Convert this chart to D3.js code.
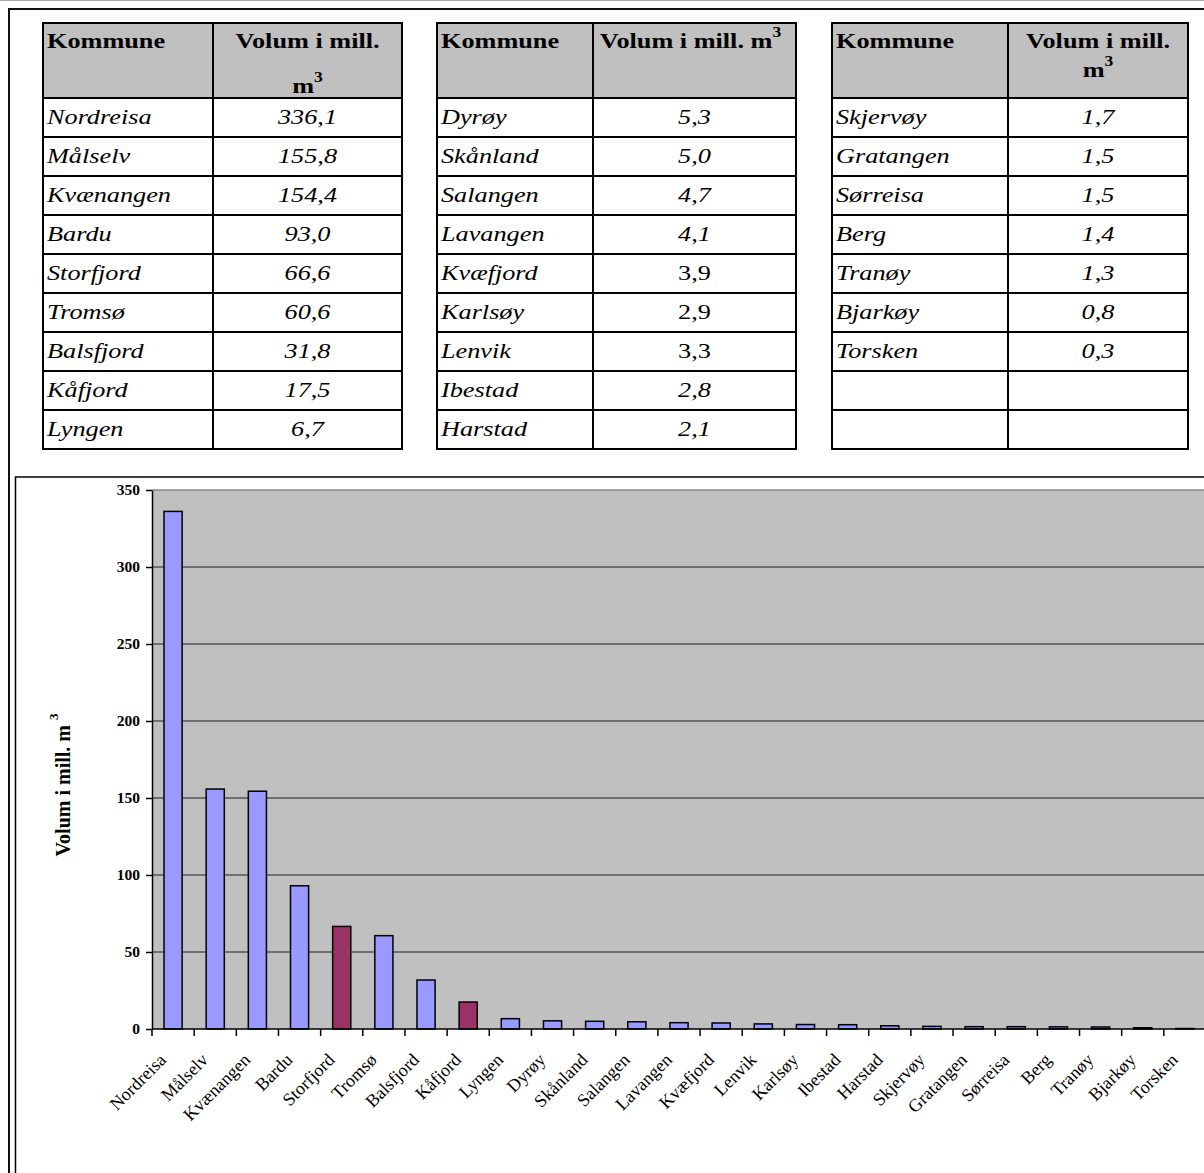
<!DOCTYPE html>
<html>
<head>
<meta charset="utf-8">
<script src="https://cdn.jsdelivr.net/npm/d3@7"></script>
<style>
  html, body { margin: 0; padding: 0; background: #fff; }
  svg { display: block; }
  text { font-family: "Liberation Serif", "Times New Roman", serif; fill: #000; }
</style>
</head>
<body>
<svg id="page" width="1204" height="1173"></svg>
<script>
// Kommuner i tabellens tre kolonnegrupper (venstre, midtre, høyre)
const tableGroups = [
  ["Nordreisa", "Målselv", "Kvænangen", "Bardu", "Storfjord", "Tromsø", "Balsfjord", "Kåfjord", "Lyngen"],
  ["Dyrøy", "Skånland", "Salangen", "Lavangen", "Kvæfjord", "Karlsøy", "Lenvik", "Ibestad", "Harstad"],
  ["Skjervøy", "Gratangen", "Sørreisa", "Berg", "Tranøy", "Bjarkøy", "Torsken"]
];
// Volum i mill. m3, samme rekkefølge som kommunene over
const tableValues = [
  [336.1, 155.8, 154.4, 93.0, 66.6, 60.6, 31.8, 17.5, 6.7],
  [5.3, 5.0, 4.7, 4.1, 3.9, 2.9, 3.3, 2.8, 2.1],
  [1.7, 1.5, 1.5, 1.4, 1.3, 0.8, 0.3]
];
// Verdier som står med rett (ikke kursiv) skrift i tabellen
const uprightValues = ["Kvæfjord", "Karlsøy", "Lenvik"];
// Kommuner med uthevet søyle
const highlighted = ["Storfjord", "Kåfjord"];
// Y-aksens tallverdier
const yTicks = [0, 50, 100, 150, 200, 250, 300, 350];
const headerName = "Kommune";
const headerValue = "Volum i mill.";
const yTitle = "Volum i mill. m";

const svg = d3.select("#page");
const fmt = v => d3.format(".1f")(v).replace(".", ",");

// ---------- Ytre ramme ----------
svg.append("line").attr("x1", 0).attr("x2", 1204).attr("y1", 0.5).attr("y2", 0.5)
  .attr("stroke", "#a8a8a8").attr("stroke-width", 1);
svg.append("path").attr("d", "M9,1173 V9 H1204")
  .attr("fill", "none").attr("stroke", "#111").attr("stroke-width", 2);

// ---------- Tabell ----------
const tableTop = 23, headerBottom = 98, rowH = 39, nRows = 9;
const colX = [[43, 213, 402], [437, 593, 796], [832, 1008, 1188]];
const SX = 1.25;          // bred Times-skrift i tabellen
const fontSize = 21;

function stext(g, x, y, str, opts) {
  const t = g.append("text")
    .attr("transform", `translate(${x},${y}) scale(${SX},1)`)
    .attr("text-anchor", opts.anchor || "start")
    .style("font-size", fontSize + "px")
    .style("font-weight", opts.weight || "normal")
    .style("font-style", opts.style || "normal")
    .text(str);
  return t;
}
function sup(t, s) {
  t.append("tspan").attr("dy", -11).style("font-size", "14px").text(s);
}

const tbl = svg.append("g");
tableGroups.forEach((names, gi) => {
  const [x0, x1, x2] = colX[gi];
  const yBottom = headerBottom + rowH * nRows;
  // header fill
  tbl.append("rect").attr("x", x0).attr("y", tableTop).attr("width", x2 - x0)
    .attr("height", headerBottom - tableTop).attr("fill", "#c0c0c0");
  // grid
  const hl = [tableTop].concat(d3.range(nRows + 1).map(i => headerBottom + i * rowH));
  hl.forEach(y => tbl.append("line").attr("x1", x0 - 1).attr("x2", x2 + 1)
    .attr("y1", y).attr("y2", y).attr("stroke", "#000").attr("stroke-width", 2));
  [x0, x1, x2].forEach(x => tbl.append("line").attr("x1", x).attr("x2", x)
    .attr("y1", tableTop - 1).attr("y2", yBottom + 1).attr("stroke", "#000").attr("stroke-width", 2));

  // header text
  stext(tbl, x0 + 4, 48, headerName, { weight: "bold" });
  const cx = (x1 + x2) / 2;
  if (gi === 1) {
    const t = stext(tbl, cx - 4, 48, headerValue + " m", { weight: "bold", anchor: "middle" });
    sup(t, "3");
  } else {
    stext(tbl, cx, 48, headerValue, { weight: "bold", anchor: "middle" });
    const t = stext(tbl, cx, gi === 0 ? 93 : 77, "m", { weight: "bold", anchor: "middle" });
    sup(t, "3");
  }

  // rows
  names.forEach((n, i) => {
    const by = headerBottom + i * rowH + 26;
    stext(tbl, x0 + 4, by, n, { style: "italic" });
    stext(tbl, cx, by, fmt(tableValues[gi][i]),
      { style: uprightValues.includes(n) ? "normal" : "italic", anchor: "middle" });
  });
});

// ---------- Diagram ----------
svg.append("path").attr("d", "M15.5,1173 V477 H1204")
  .attr("fill", "none").attr("stroke", "#000").attr("stroke-width", 1.5);

const data = tableGroups.flatMap((names, gi) => names.map((n, i) => ({ name: n, value: tableValues[gi][i] })))
  .sort((a, b) => b.value - a.value);

const plot = { left: 152, right: 1206, top: 490, bottom: 1029 };
const x = d3.scaleBand().domain(data.map(d => d.name))
  .range([plot.left, plot.right]).paddingInner(0.57).paddingOuter(0.285);
const y = d3.scaleLinear().domain([0, 350]).range([plot.bottom, plot.top]);

const chart = svg.append("g");
chart.append("rect").attr("x", plot.left).attr("y", plot.top)
  .attr("width", plot.right - plot.left).attr("height", plot.bottom - plot.top)
  .attr("fill", "#c0c0c0");

// gridlines
chart.selectAll("line.grid").data(yTicks.filter(v => v > 0)).join("line")
  .attr("class", "grid")
  .attr("x1", plot.left).attr("x2", plot.right)
  .attr("y1", d => y(d)).attr("y2", d => y(d))
  .attr("stroke", d => d === 350 ? "#8a8a8a" : "#555")
  .attr("stroke-width", 1.3);

// bars
chart.selectAll("rect.bar").data(data).join("rect")
  .attr("class", "bar")
  .attr("x", d => x(d.name)).attr("width", x.bandwidth())
  .attr("y", d => y(d.value)).attr("height", d => y(0) - y(d.value))
  .attr("fill", d => highlighted.includes(d.name) ? "#993366" : "#9999ff")
  .attr("stroke", "#000").attr("stroke-width", 1.5);

// y axis
const yAxis = chart.append("g").attr("transform", `translate(${plot.left},0)`)
  .call(d3.axisLeft(y).tickValues(yTicks).tickSize(6).tickPadding(6).tickSizeOuter(0));
yAxis.select(".domain").attr("stroke", "#000").attr("stroke-width", 1.5);
yAxis.selectAll(".tick line").attr("stroke", "#000").attr("stroke-width", 1.5);
yAxis.selectAll(".tick text")
  .style("font-family", "'Liberation Serif', 'Times New Roman', serif")
  .style("font-size", "15.5px").style("font-weight", "bold").attr("fill", "#000");

// x axis (ticks between categories)
const step = x.step();
const x0 = plot.left;
chart.append("line").attr("x1", plot.left).attr("x2", plot.right)
  .attr("y1", plot.bottom).attr("y2", plot.bottom)
  .attr("stroke", "#000").attr("stroke-width", 1.5);
chart.selectAll("line.xtick").data(d3.range(data.length + 1)).join("line")
  .attr("class", "xtick")
  .attr("x1", i => x0 + i * step).attr("x2", i => x0 + i * step)
  .attr("y1", plot.bottom).attr("y2", plot.bottom + 7)
  .attr("stroke", "#000").attr("stroke-width", 1.5);
chart.selectAll("text.xlab").data(data).join("text")
  .attr("class", "xlab")
  .attr("text-anchor", "end")
  .attr("transform", d => `translate(${x(d.name) + x.bandwidth() / 2 - 6},${plot.bottom + 32}) rotate(-45)`)
  .style("font-size", "18px")
  .text(d => d.name);

// y title
const yt = chart.append("text")
  .attr("text-anchor", "middle")
  .attr("transform", "translate(70,785) rotate(-90)")
  .style("font-size", "20px").style("font-weight", "bold")
  .text(yTitle + " ");
yt.append("tspan").attr("dy", -12).style("font-size", "13px").text("3");
</script>
</body>
</html>
